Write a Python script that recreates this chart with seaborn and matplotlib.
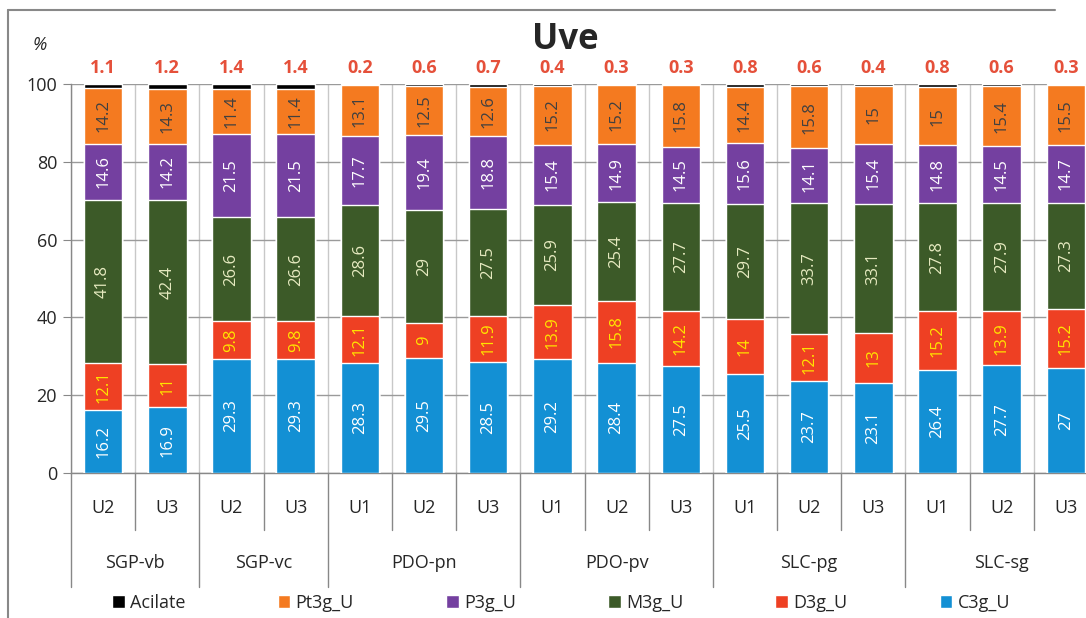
import numpy as np
import pandas as pd
import seaborn as sns
from matplotlib import pyplot as plt
from matplotlib.lines import Line2D

groups = ['SGP-vb', 'SGP-vb', 'SGP-vc', 'SGP-vc', 'PDO-pn', 'PDO-pn', 'PDO-pn',
          'PDO-pv', 'PDO-pv', 'PDO-pv', 'SLC-pg', 'SLC-pg', 'SLC-pg',
          'SLC-sg', 'SLC-sg', 'SLC-sg']
units = ['U2', 'U3', 'U2', 'U3', 'U1', 'U2', 'U3', 'U1', 'U2', 'U3',
         'U1', 'U2', 'U3', 'U1', 'U2', 'U3']

c3g = [16.2, 16.9, 29.3, 29.3, 28.3, 29.5, 28.5, 29.2, 28.4, 27.5, 25.5, 23.7, 23.1, 26.4, 27.7, 27]
d3g = [12.1, 11, 9.8, 9.8, 12.1, 9, 11.9, 13.9, 15.8, 14.2, 14, 12.1, 13, 15.2, 13.9, 15.2]
m3g = [41.8, 42.4, 26.6, 26.6, 28.6, 29, 27.5, 25.9, 25.4, 27.7, 29.7, 33.7, 33.1, 27.8, 27.9, 27.3]
p3g = [14.6, 14.2, 21.5, 21.5, 17.7, 19.4, 18.8, 15.4, 14.9, 14.5, 15.6, 14.1, 15.4, 14.8, 14.5, 14.7]
pt3g = [14.2, 14.3, 11.4, 11.4, 13.1, 12.5, 12.6, 15.2, 15.2, 15.8, 14.4, 15.8, 15, 15, 15.4, 15.5]
acilate = [1.1, 1.2, 1.4, 1.4, 0.2, 0.6, 0.7, 0.4, 0.3, 0.3, 0.8, 0.6, 0.4, 0.8, 0.6, 0.3]

# bottom to top
layers = ['C3g_U', 'D3g_U', 'M3g_U', 'P3g_U', 'Pt3g_U', 'Acilate']
values = [c3g, d3g, m3g, p3g, pt3g, acilate]
colors = ['#1390D4', '#EE4023', '#3C5A28', '#7440A0', '#F47A20', '#000000']
txt_colors = ['white', '#FFE400', '#E6EAC0', 'white', '#404040', None]

df = pd.DataFrame({'pos': range(len(units)), 'unit': units, 'group': groups})
for name, v in zip(layers, values):
    df[name] = v
cum = df[layers].cumsum(axis=1)

sns.set_style('white')
plt.rcParams['font.family'] = ['Open Sans', 'DejaVu Sans']

fig = plt.figure(figsize=(10.86, 6.18), dpi=100)
W, H = 1086, 618
ax = fig.add_axes([71 / W, 1 - 473 / H, 1027 / W, 389 / H])

# stacked bars: draw cumulative heights from the top layer down
for name, col in zip(layers[::-1], colors[::-1]):
    sns.barplot(x=df['pos'], y=cum[name], color=col, saturation=1, width=0.6,
                errorbar=None, label=name, ax=ax, zorder=3)
handles, labels = ax.get_legend_handles_labels()
if ax.get_legend() is not None:
    ax.get_legend().remove()

# labels inside segments
for i in range(len(df)):
    bottom = 0
    for name, tc in zip(layers, txt_colors):
        v = df.loc[i, name]
        if tc is not None:
            ax.text(i, bottom + v / 2, f'{v:g}', rotation=90, ha='center', va='center',
                    color=tc, fontsize=12, zorder=5)
        bottom += v
    ax.text(i, 104.2, f'{df.loc[i, "Acilate"]:g}', ha='center', va='center',
            color='#E5503A', fontsize=13, fontweight='bold', clip_on=False)

ax.set_xlim(-0.5, len(df) - 0.5)
ax.set_ylim(0, 100)
ax.set_yticks(range(0, 101, 20))
ax.tick_params(axis='y', labelsize=13, length=6, color='#888888', direction='out', pad=4,
               left=True)
ax.set_xticks(range(len(df)))
ax.set_xticklabels(units, fontsize=13)
ax.tick_params(axis='x', length=0, pad=19)
ax.set_xticks(np.arange(-0.5, len(df), 1), minor=True)
ax.tick_params(axis='x', which='minor', length=0)
ax.grid(axis='y', which='major', color='#9A9A9A', lw=1, zorder=0)
ax.grid(axis='x', which='minor', color='#C8C8C8', lw=1, zorder=0)
ax.set_xlabel('')
ax.set_ylabel('')
for s in ['top', 'right']:
    ax.spines[s].set_visible(False)
for s in ['left', 'bottom']:
    ax.spines[s].set_color('#888888')
    ax.spines[s].set_linewidth(1)

# separators below axis and group labels
trans = ax.get_xaxis_transform()
short_y = -(530 - 473) / 389
long_y = -(587 - 473) / 389
bounds = [-0.5]
for i in range(1, len(df)):
    if groups[i] != groups[i - 1]:
        bounds.append(i - 0.5)
bounds.append(len(df) - 0.5)
for i in range(len(df) + 1):
    b = i - 0.5
    yb = long_y if b in bounds else short_y
    ax.plot([b, b], [0, yb], color='#888888', lw=1, transform=trans, clip_on=False)
for a, b in zip(bounds[:-1], bounds[1:]):
    ax.text((a + b) / 2, -(563 - 473) / 389, groups[int(a + 0.5)], transform=trans,
            ha='center', va='center', fontsize=13)

fig.legend(handles, labels, loc='center', bbox_to_anchor=(561 / W, 1 - 603 / H), ncol=6,
           frameon=False, fontsize=13, handlelength=0.7, handleheight=0.7,
           handletextpad=0.3, columnspacing=5.1)

fig.text(565 / W, 1 - 40 / H, 'Uve', ha='center', va='center', fontsize=25,
         fontweight='bold')
fig.text(40 / W, 1 - 45 / H, '%', ha='center', va='center', fontsize=13, style='italic')

# outer frame (top and left edges only are visible in the crop)
fig.add_artist(Line2D([8 / W, 1055 / W], [1 - 10 / H, 1 - 10 / H], transform=fig.transFigure,
                      color='#888888', lw=1.5))
fig.add_artist(Line2D([8 / W, 8 / W], [1 - 10 / H, 0], transform=fig.transFigure,
                      color='#888888', lw=1.5))

fig.savefig('out.png', dpi=100)
